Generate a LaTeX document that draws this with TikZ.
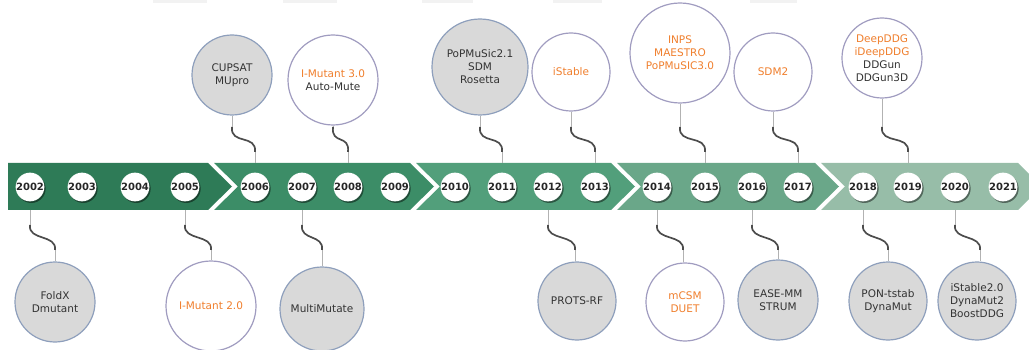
\documentclass[tikz,border=0pt]{standalone}
\usepackage{fontspec}
\setmainfont{DejaVu Sans}
\usetikzlibrary{calc,shadows}
\definecolor{segA}{HTML}{2E7B57}
\definecolor{segB}{HTML}{3C8D67}
\definecolor{segC}{HTML}{529F7B}
\definecolor{segD}{HTML}{6AA789}
\definecolor{segE}{HTML}{97BDA8}
\definecolor{bubgrey}{HTML}{D9D9D9}
\definecolor{bordg}{HTML}{8E9FBC}
\definecolor{bordw}{HTML}{A09CC0}
\definecolor{txt}{HTML}{333333}
\definecolor{orng}{HTML}{F07F2D}
\begin{document}
\begin{tikzpicture}[x=1pt,y=-1pt,font=\fontsize{10.5}{13}\selectfont,
  bub/.style={circle,inner sep=0pt,line width=1.2pt,align=center,text=txt},
  gbub/.style={bub,fill=bubgrey,draw=bordg},
  wbub/.style={bub,fill=white,draw=bordw},
  yrnode/.style={circle,minimum size=28pt,inner sep=0pt,fill=white,
    font=\bfseries\fontsize{10}{12}\selectfont,text=black!85,
    drop shadow={shadow xshift=1.3pt,shadow yshift=-1.6pt,fill=black,opacity=.45}},
  thinc/.style={draw=gray!60,line width=0.8pt},
  sq/.style={draw=black!70,line width=1.7pt},
  ghost/.style={fill=black!5,draw=none}]
\useasboundingbox (0,0) rectangle (1029,350);
\clip (0,0) rectangle (1029,350);
% faint shapes at the top edge
\fill[ghost] (153,0) rectangle (207,3);
\fill[ghost] (283,0) rectangle (337,3);
\fill[ghost] (422,0) rectangle (473,3);
\fill[ghost] (553,0) rectangle (602,3);
\fill[ghost] (750,0) rectangle (797,3);
% band
\coordinate (bandtop) at (0,163);
\coordinate (bandbot) at (0,210);
\fill[segA] (8,163) -- (208,163) -- (232,186.5) -- (208,210) -- (8,210) -- cycle;
\fill[segB] (214,163) -- (410,163) -- (434,186.5) -- (410,210) -- (214,210) -- (238,186.5) -- cycle;
\fill[segC] (416,163) -- (611,163) -- (635,186.5) -- (611,210) -- (416,210) -- (440,186.5) -- cycle;
\fill[segD] (617,163) -- (815,163) -- (839,186.5) -- (815,210) -- (617,210) -- (641,186.5) -- cycle;
\fill[segE] (821,163) -- (1018,163) -- (1042,186.5) -- (1018,210) -- (821,210) -- (845,186.5) -- cycle;
% years
\foreach \yr/\x in {2002/30,2003/82,2004/135,2005/185,2006/255,2007/302,2008/348,2009/395,
  2010/455,2011/502,2012/548,2013/595,2014/657,2015/705,2016/752,2017/798,
  2018/863,2019/908,2020/955,2021/1003}
  \node[yrnode] (y\yr) at (\x,187) {\yr};
% top bubbles
\node[gbub,minimum size=80pt] (t1) at (232,75) {CUPSAT\\MUpro};
\node[wbub,minimum size=90pt] (t2) at (333,80) {{\color{orng}I-Mutant 3.0}\\Auto-Mute};
\node[gbub,minimum size=96pt] (t3) at (480,67) {PoPMuSic2.1\\SDM\\Rosetta};
\node[wbub,minimum size=78pt,text=orng] (t4) at (571,72) {iStable};
\node[wbub,minimum size=100pt,text=orng] (t5) at (680,53) {INPS\\MAESTRO\\PoPMuSIC3.0};
\node[wbub,minimum size=78pt,text=orng] (t6) at (773,72) {SDM2};
\node[wbub,minimum size=80pt] (t7) at (882,58) {{\color{orng}DeepDDG}\\{\color{orng}iDeepDDG}\\DDGun\\DDGun3D};
% bottom bubbles
\node[gbub,minimum size=80pt] (b1) at (55,302) {FoldX\\Dmutant};
\node[wbub,minimum size=90pt,text=orng] (b2) at (211,306) {I-Mutant 2.0};
\node[gbub,minimum size=84pt] (b3) at (322,309) {MultiMutate};
\node[gbub,minimum size=78pt] (b4) at (577,301) {PROTS-RF};
\node[wbub,minimum size=78pt,text=orng] (b5) at (685,302) {mCSM\\DUET};
\node[gbub,minimum size=80pt] (b6) at (778,300) {EASE-MM\\STRUM};
\node[gbub,minimum size=78pt] (b7) at (888,301) {PON-tstab\\DynaMut};
\node[gbub,minimum size=78pt] (b8) at (977,301) {iStable2.0\\DynaMut2\\BoostDDG};
% top connectors
\foreach \n/\bx/\yx in {t1/232/2006,t2/333/2008,t3/480/2011,t4/571/2013,t5/680/2015,t6/773/2017,t7/882/2019}{
  \coordinate (\n a) at (\bx,127);
  \coordinate (\n b) at (y\yx |- 0,152);
  \draw[thinc] (\n.south) -- (\n a);
  \draw[sq] (\n a) .. controls ($(\n a)+(-2,18)$) and ($(\n b)+(2,-18)$) .. (\n b);
  \draw[thinc] (\n b) -- (y\yx |- bandtop);
}
% bottom connectors
\foreach \n/\bx/\yx in {b1/55/2002,b2/211/2005,b3/322/2007,b4/575/2012,b5/683/2014,b6/778/2016,b7/888/2018,b8/980/2020}{
  \coordinate (\n a) at (y\yx |- 0,225);
  \coordinate (\n b) at (\bx,250);
  \draw[thinc] (y\yx |- bandbot) -- (\n a);
  \draw[sq] (\n a) .. controls ($(\n a)+(-2,16)$) and ($(\n b)+(2,-16)$) .. (\n b);
  \draw[thinc] (\n b) -- (\bx,250 |- \n.north);
}
\end{tikzpicture}
\end{document}
